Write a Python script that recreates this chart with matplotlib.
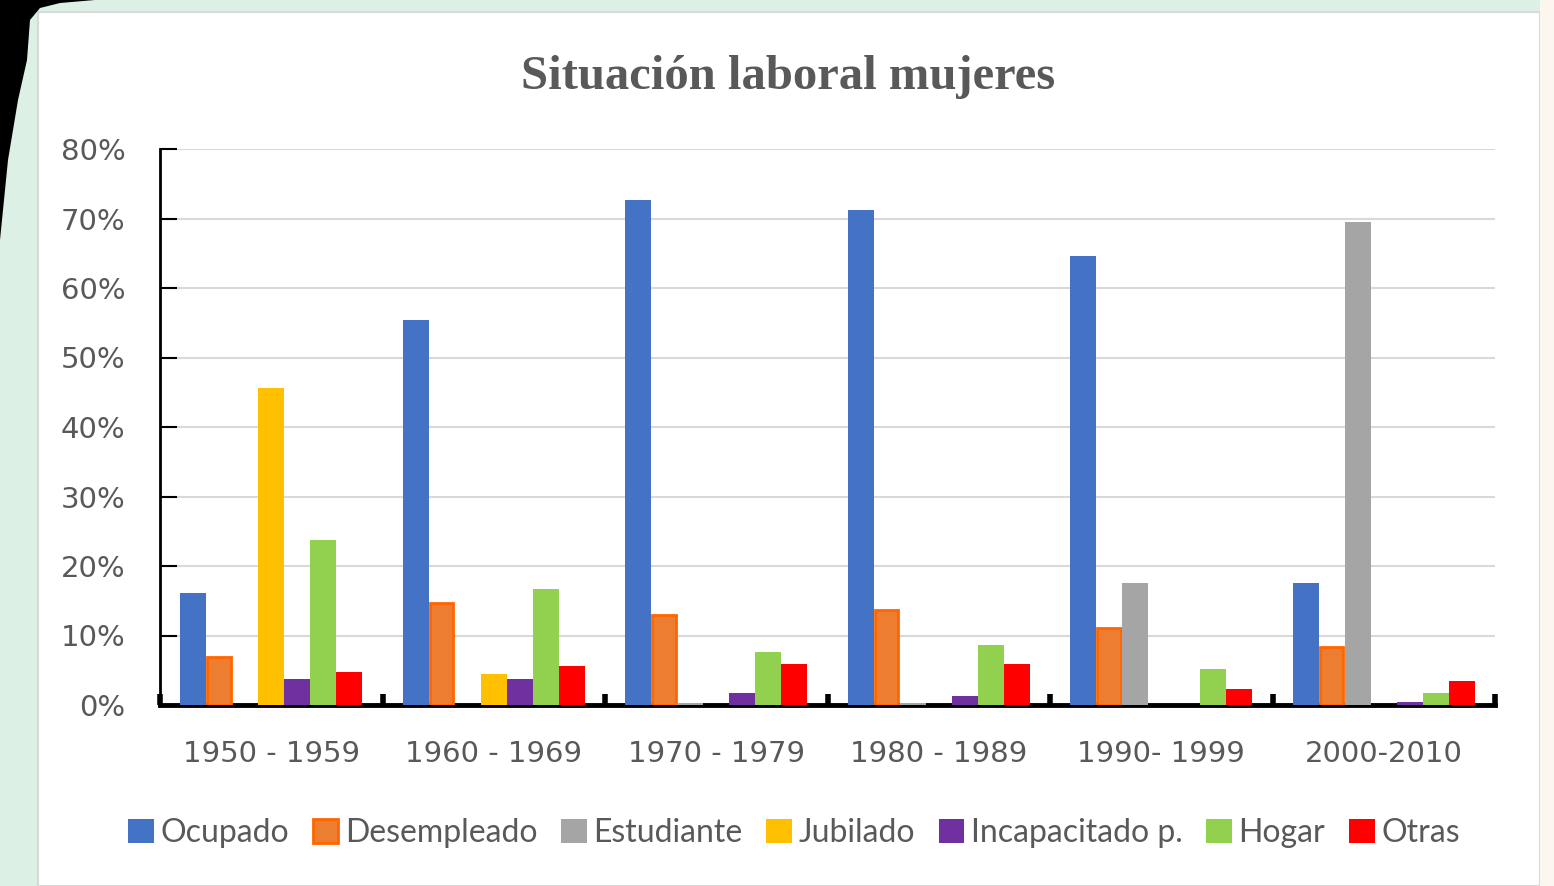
import matplotlib.pyplot as plt
import matplotlib.patches as mpatches
import numpy as np

# data (percent)
decades = ['1950 - 1959', '1960 - 1969', '1970 - 1979', '1980 - 1989', '1990- 1999', '2000-2010']
series = ['Ocupado', 'Desempleado', 'Estudiante', 'Jubilado', 'Incapacitado p.', 'Hogar', 'Otras']
ocupado = [16.1, 55.4, 72.7, 71.2, 64.6, 17.6]
desempleado = [6.9, 14.7, 12.9, 13.7, 11.1, 8.3]
estudiante = [0.0, 0.0, 0.3, 0.3, 17.6, 69.5]
jubilado = [45.6, 4.5, 0.0, 0.0, 0.0, 0.0]
incapacitado = [3.7, 3.7, 1.7, 1.3, 0.0, 0.5]
hogar = [23.7, 16.7, 7.6, 8.6, 5.2, 1.7]
otras = [4.7, 5.6, 5.9, 5.9, 2.3, 3.4]
values = [ocupado, desempleado, estudiante, jubilado, incapacitado, hogar, otras]
colors = ['#4472C4', '#ED7D31', '#A5A5A5', '#FFC000', '#7030A0', '#92D050', '#FF0000']
edges = [None, '#FF6600', None, None, None, None, None]

fig = plt.figure(figsize=(15.54, 8.86), dpi=100)
fig.patch.set_facecolor('#DCF0E6')

# white chart area with thin border
fig.patches.append(mpatches.Rectangle((38 / 1554, 0), 1502 / 1554, 874 / 886,
                                      transform=fig.transFigure, facecolor='white',
                                      edgecolor='#D9D9D9', linewidth=1.5, zorder=0))
fig.patches.append(mpatches.Rectangle((1540 / 1554, 0), 14 / 1554, 1,
                                      transform=fig.transFigure, facecolor='#FBF6EE',
                                      edgecolor='none', zorder=0))
# black shape in the top left corner (pixels, y from top)
blob = np.array([[0, 0], [95, 0], [60, 3], [40, 8], [30, 20], [27, 60], [18, 100],
                 [8, 160], [3, 210], [0, 240]], dtype=float)
blob[:, 1] = 886 - blob[:, 1]
fig.patches.append(mpatches.Polygon(blob / [1554, 886], closed=True,
                                    transform=fig.transFigure, facecolor='black',
                                    edgecolor='none', zorder=1))

ax = fig.add_axes([160 / 1554, 1 - 705 / 886, 1335 / 1554, 556 / 886])
ax.set_zorder(5)
ax.patch.set_alpha(0)
x = np.arange(len(decades))
w = 0.117
for i, (name, vals) in enumerate(zip(series, values)):
    pos = x + (i - 3) * w
    if edges[i]:
        ax.bar(pos, vals, w * 0.9, color=colors[i], edgecolor=edges[i],
               linewidth=2, label=name, zorder=3)
    else:
        ax.bar(pos, vals, w, color=colors[i], label=name, zorder=3)

ax.set_xlim(-0.5, len(decades) - 0.5)
ax.set_ylim(0, 80)
ax.set_yticks(range(0, 81, 10))
ax.set_yticklabels([f'{v}%' for v in range(0, 81, 10)])
ax.yaxis.grid(True, color='#D9D9D9', linewidth=1.5, zorder=0)
ax.set_axisbelow(True)

for s in ['top', 'right']:
    ax.spines[s].set_visible(False)
ax.spines['left'].set_linewidth(2)
ax.spines['bottom'].set_linewidth(3.5)

ax.tick_params(axis='y', direction='in', length=12, width=1.5, colors='black',
               labelcolor='#595959', labelsize=21, pad=25)
ax.set_xticks(x)
ax.set_xticklabels(decades)
ax.tick_params(axis='x', length=0, labelcolor='#595959', labelsize=21, pad=25)
# group separators on the x axis
ax.set_xticks(np.arange(-0.5, len(decades), 1), minor=True)
ax.tick_params(axis='x', which='minor', direction='in', length=8, width=4, colors='black')

for lab in ax.get_xticklabels() + ax.get_yticklabels():
    lab.set_family('DejaVu Sans')

fig.text(788 / 1554, 1 - 77 / 886, 'Situación laboral mujeres', ha='center', va='center',
         fontsize=35, fontweight='bold', color='#595959', family='Liberation Serif')

leg = fig.legend(loc='center', bbox_to_anchor=(794 / 1554, 1 - 833 / 886), ncol=7,
                 frameon=False, handlelength=0.8, handleheight=0.8, handletextpad=0.2,
                 columnspacing=0.75, prop={'family': 'Lato', 'size': 23})
for t in leg.get_texts():
    t.set_color('#595959')

fig.savefig('out.png', dpi=100, facecolor=fig.get_facecolor())
